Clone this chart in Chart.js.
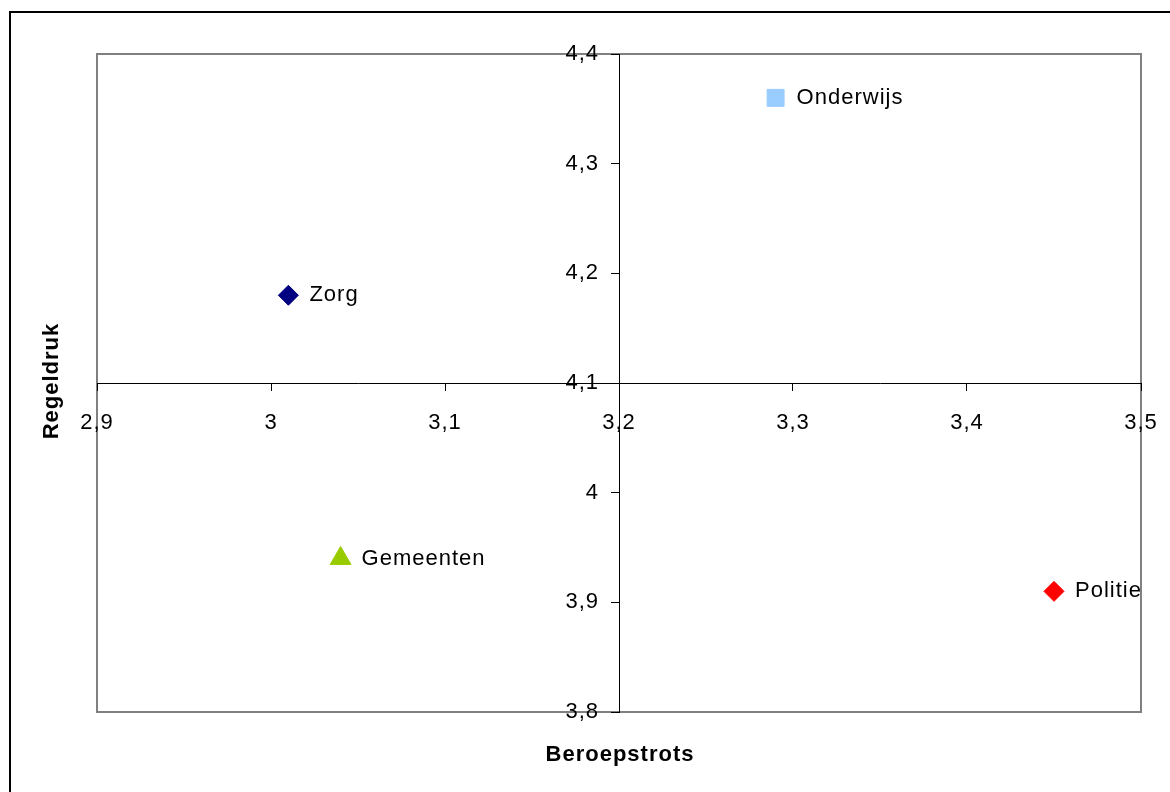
<!DOCTYPE html>
<html>
<head>
<meta charset="utf-8">
<script src="https://cdn.jsdelivr.net/npm/chart.js@4.4.1/dist/chart.umd.min.js"></script>
<style>
html,body{margin:0;padding:0;background:#fff;}
#wrap{width:1170px;height:792px;position:relative;}
</style>
</head>
<body>
<div id="wrap"><canvas id="c" width="1170" height="792"></canvas></div>
<script>
const categories = ['Zorg', 'Onderwijs', 'Gemeenten', 'Politie'];
const beroepstrots = [3.01, 3.29, 3.04, 3.45];
const regeldruk = [4.18, 4.36, 3.94, 3.91];
const colors = ['#000080', '#99CCFF', '#99CC00', '#FF0000'];
const shapes = ['rectRot', 'rect', 'triangle', 'rectRot'];
const sizes = [10, 12, 12, 10];
const xTicks = [2.9, 3.0, 3.1, 3.2, 3.3, 3.4, 3.5];
const xTickLabels = ['2,9', '3', '3,1', '3,2', '3,3', '3,4', '3,5'];
const yTicks = [3.8, 3.9, 4.0, 4.1, 4.2, 4.3, 4.4];
const yTickLabels = ['3,8', '3,9', '4', '4,1', '4,2', '4,3', '4,4'];
const xTitle = 'Beroepstrots';
const yTitle = 'Regeldruk';

const FONT = "'Liberation Sans', Arial, sans-serif";

const datasets = categories.map((name, i) => ({
  label: name,
  data: [{x: beroepstrots[i], y: regeldruk[i]}],
  backgroundColor: colors[i],
  borderColor: colors[i],
  borderWidth: 1,
  pointStyle: shapes[i],
  pointRadius: sizes[i],
  pointHoverRadius: sizes[i]
}));

const decor = {
  id: 'decor',
  beforeDraw(chart) {
    const ctx = chart.ctx;
    const a = chart.chartArea;
    ctx.save();
    ctx.fillStyle = '#fff';
    ctx.fillRect(0, 0, chart.width, chart.height);
    ctx.strokeStyle = '#000';
    ctx.lineWidth = 2;
    ctx.strokeRect(10, 12, 1300, 900);
    ctx.strokeStyle = '#808080';
    ctx.lineWidth = 2;
    ctx.strokeRect(a.left, a.top, a.right - a.left, a.bottom - a.top);
    ctx.restore();
    ctx.letterSpacing = '1px';
    // place y tick labels left of the tick marks
    const ys = chart.scales.y;
    const shift = ys.options.grid.tickLength + ys.options.ticks.padding;
    ys.getLabelItems().forEach(it => {
      if (!it._shifted) { it.options.translation[0] -= shift; it._shifted = true; }
    });
    // push x tick labels a bit further below the axis
    chart.scales.x.getLabelItems().forEach(it => {
      if (!it._shifted) { it.options.translation[1] += 10; it._shifted = true; }
    });
  },
  afterDraw(chart) {
    const ctx = chart.ctx;
    const xs = chart.scales.x, ys = chart.scales.y;
    ctx.save();
    ctx.fillStyle = '#000';
    ctx.font = '22px ' + FONT;
    ctx.textAlign = 'left';
    ctx.textBaseline = 'middle';
    categories.forEach((name, i) => {
      const px = xs.getPixelForValue(beroepstrots[i]);
      const py = ys.getPixelForValue(regeldruk[i]);
      ctx.fillText(name, px + 21, py);
    });
    ctx.font = 'bold 22px ' + FONT;
    ctx.textAlign = 'center';
    ctx.fillText(xTitle, 620, 755);
    ctx.translate(52, 381);
    ctx.rotate(-Math.PI / 2);
    ctx.fillText(yTitle, 0, 0);
    ctx.restore();
    ctx.letterSpacing = '0px';
  }
};

new Chart(document.getElementById('c'), {
  type: 'scatter',
  data: { datasets },
  options: {
    responsive: false,
    animation: false,
    events: [],
    layout: { padding: { left: 97, top: 54, right: 29, bottom: 80 } },
    plugins: { legend: { display: false }, tooltip: { enabled: false } },
    scales: {
      x: {
        type: 'linear',
        min: 2.9, max: 3.5,
        position: { y: 4.1 },
        afterBuildTicks: s => { s.ticks = xTicks.map(v => ({value: v})); },
        ticks: {
          color: '#000',
          font: { family: FONT, size: 22 },
          padding: 10,
          maxRotation: 0,
          autoSkip: false,
          callback: (v, i) => xTickLabels[i]
        },
        grid: { drawOnChartArea: false, drawTicks: true, tickLength: 7, color: '#000' },
        border: { display: true, color: '#000', width: 1 }
      },
      y: {
        type: 'linear',
        min: 3.8, max: 4.4,
        position: { x: 3.2 },
        afterBuildTicks: s => { s.ticks = yTicks.map(v => ({value: v})); },
        ticks: {
          color: '#000',
          font: { family: FONT, size: 22 },
          padding: 12,
          autoSkip: false,
          callback: (v, i) => yTickLabels[i]
        },
        grid: { drawOnChartArea: false, drawTicks: true, tickLength: 8, color: '#000' },
        border: { display: true, color: '#000', width: 1 }
      }
    }
  },
  plugins: [decor]
});
</script>
</body>
</html>
